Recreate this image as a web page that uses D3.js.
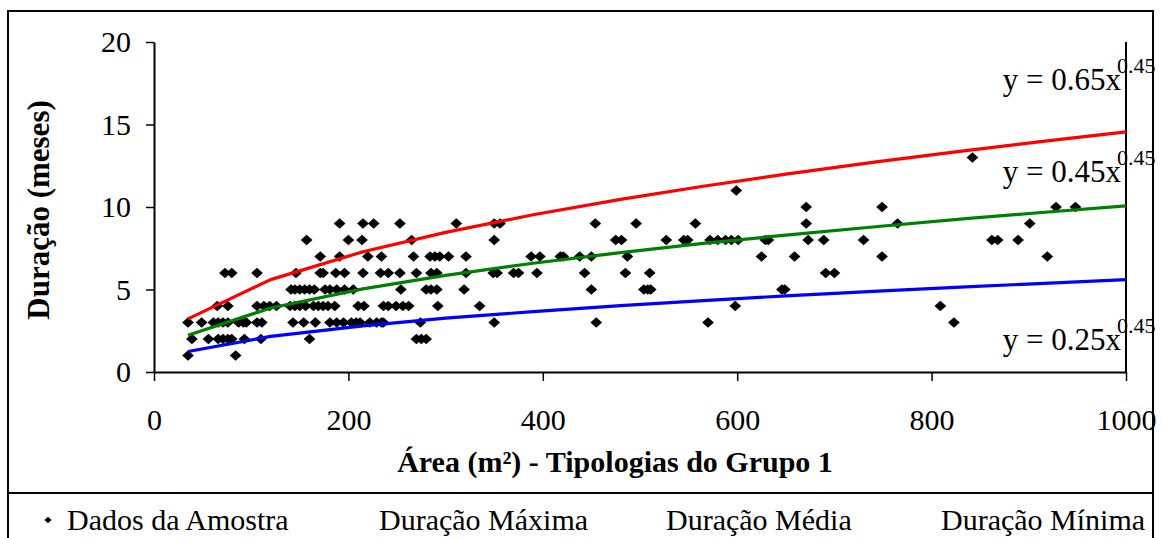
<!DOCTYPE html>
<html><head><meta charset="utf-8">
<script src="https://cdn.jsdelivr.net/npm/d3@7"></script>
<style>
html,body{margin:0;padding:0;background:#fff;}
svg{display:block;font-family:"Liberation Serif","Times New Roman",serif;}
</style></head><body>
<svg id="chart" width="1161" height="538"></svg>
<script>
// Axis ticks
const xTicks = [0, 200, 400, 600, 800, 1000];
const yTicks = [0, 5, 10, 15, 20];

// Sample data: for each duration (months), the areas (m²) observed
const sampleMonths = [1, 2, 3, 4, 5, 6, 7, 8, 9, 10, 11, 13];
const sampleAreas = [
  [35, 84],
  [39, 56, 66, 71, 76, 80, 93, 110, 160, 270, 275, 280],
  [35, 49, 61, 66, 71, 76, 87, 92, 95, 106, 111, 143, 154, 166, 181, 188, 195, 203, 208, 212, 222, 229, 234, 236, 274, 350, 455, 570, 823],
  [65, 76, 106, 113, 119, 126, 140, 145, 150, 156, 164, 169, 174, 179, 186, 210, 216, 236, 241, 249, 256, 262, 292, 335, 598, 809],
  [141, 145, 150, 155, 160, 165, 176, 181, 188, 196, 205, 254, 280, 285, 291, 319, 450, 504, 508, 511, 646, 649],
  [73, 80, 106, 146, 171, 174, 187, 196, 215, 233, 241, 253, 270, 285, 291, 321, 349, 353, 370, 375, 394, 443, 485, 510, 691, 700],
  [171, 191, 220, 234, 267, 284, 289, 294, 303, 321, 388, 397, 418, 421, 438, 450, 487, 625, 659, 749, 919],
  [157, 200, 214, 265, 350, 475, 481, 527, 545, 549, 572, 580, 588, 594, 601, 629, 632, 673, 689, 730, 862, 868, 889],
  [191, 215, 226, 253, 311, 350, 356, 454, 496, 557, 671, 765, 901],
  [671, 749, 928, 948],
  [599],
  [842]
];

// Duration curves y = a·x^0.45, tabulated at these areas
const curveAreas = [35, 120, 215, 300, 390, 480, 565, 650, 745, 835, 910, 1000];
const maxMonths = [3.22, 5.60, 7.29, 8.46, 9.53, 10.46, 11.26, 11.99, 12.75, 13.42, 13.95, 14.55];
const avgMonths = [2.23, 3.88, 5.04, 5.86, 6.59, 7.24, 7.79, 8.30, 8.82, 9.29, 9.65, 10.07];
const minMonths = [1.24, 2.16, 2.80, 3.26, 3.66, 4.02, 4.33, 4.61, 4.90, 5.16, 5.36, 5.60];

const curveNames = ["Duração Máxima", "Duração Média", "Duração Mínima"];
const curveColors = ["#ff0000", "#008000", "#0000ff"];
const curveLabels = ["y = 0.65x", "y = 0.45x", "y = 0.25x"];
const curveExponent = "0.45";

const svg = d3.select("#chart");

const x = d3.scaleLinear().domain([0, 1000]).range([154, 1126]);
const y = d3.scaleLinear().domain([0, 20]).range([372, 42]);

// Frames: chart area and legend box
svg.append("rect").attr("x", 8).attr("y", 11).attr("width", 1145).attr("height", 482)
  .attr("fill", "none").attr("stroke", "#000").attr("stroke-width", 2);
svg.append("rect").attr("x", 8).attr("y", 493).attr("width", 1145).attr("height", 60)
  .attr("fill", "none").attr("stroke", "#000").attr("stroke-width", 2);

// Right edge of the plot area
svg.append("line").attr("x1", 1126).attr("x2", 1126).attr("y1", y(20)).attr("y2", y(0))
  .attr("stroke", "#000").attr("stroke-width", 2);

// Axes
const gx = svg.append("g").attr("transform", `translate(0,${y(0)})`)
  .call(d3.axisBottom(x).tickValues(xTicks).tickFormat(d3.format("d"))
    .tickSize(9).tickSizeOuter(0).tickPadding(28));
const gy = svg.append("g").attr("transform", `translate(${x(0)},0)`)
  .call(d3.axisLeft(y).tickValues(yTicks).tickFormat(d3.format("d"))
    .tickSize(8).tickSizeOuter(0).tickPadding(15));
[gx, gy].forEach(g => {
  g.select(".domain").attr("stroke", "#000").attr("stroke-width", 2);
  g.selectAll(".tick line").attr("stroke", "#000").attr("stroke-width", 1.5);
  g.selectAll(".tick text").attr("font-family", "Liberation Serif, serif")
    .attr("font-size", 30).attr("fill", "#000");
});

// Diamond marker
const diamond = {
  draw(ctx, size) {
    const r = Math.sqrt(size) / 2;
    ctx.moveTo(0, -r * 0.95);
    ctx.lineTo(r * 1.05, 0);
    ctx.lineTo(0, r * 0.95);
    ctx.lineTo(-r * 1.05, 0);
    ctx.closePath();
  }
};

// Sample points
const points = [];
sampleMonths.forEach((m, i) => sampleAreas[i].forEach(a => points.push([a, m])));
svg.append("g").selectAll("path").data(points).join("path")
  .attr("d", d3.symbol().type(diamond).size(125))
  .attr("transform", d => `translate(${x(d[0])},${y(d[1])})`)
  .attr("fill", "#000");

// Curves
const line = d3.line().x(d => x(d[0])).y(d => y(d[1]));
[maxMonths, avgMonths, minMonths].forEach((vals, i) => {
  svg.append("path")
    .datum(curveAreas.map((a, j) => [a, vals[j]]))
    .attr("d", line)
    .attr("fill", "none")
    .attr("stroke", curveColors[i])
    .attr("stroke-width", 3.2)
    .attr("stroke-linejoin", "round");
});

// Equation labels
const eqBase = [90, 182, 350];
curveLabels.forEach((t, i) => {
  svg.append("text").attr("x", 1121).attr("y", eqBase[i])
    .attr("text-anchor", "end").attr("font-size", 31).text(t);
  svg.append("text").attr("x", 1117).attr("y", eqBase[i] - 17)
    .attr("font-size", 22).text(curveExponent);
});

// Axis titles
svg.append("text").attr("x", 615).attr("y", 472).attr("text-anchor", "middle")
  .attr("font-size", 30).attr("font-weight", "bold").text("Área (m²) - Tipologias do Grupo 1");
svg.append("text").attr("transform", "translate(49,210) rotate(-90)")
  .attr("text-anchor", "middle").attr("font-size", 31).attr("font-weight", "bold")
  .text("Duração (meses)");

// Legend
svg.append("path").attr("d", d3.symbol().type(diamond).size(50)())
  .attr("transform", "translate(48,520)").attr("fill", "#000");
const legendItems = ["Dados da Amostra", ...curveNames];
const legendX = [67, 379, 666, 941];
legendItems.forEach((t, i) => {
  svg.append("text").attr("x", legendX[i]).attr("y", 530).attr("font-size", 30).text(t);
});
</script>
</body></html>
